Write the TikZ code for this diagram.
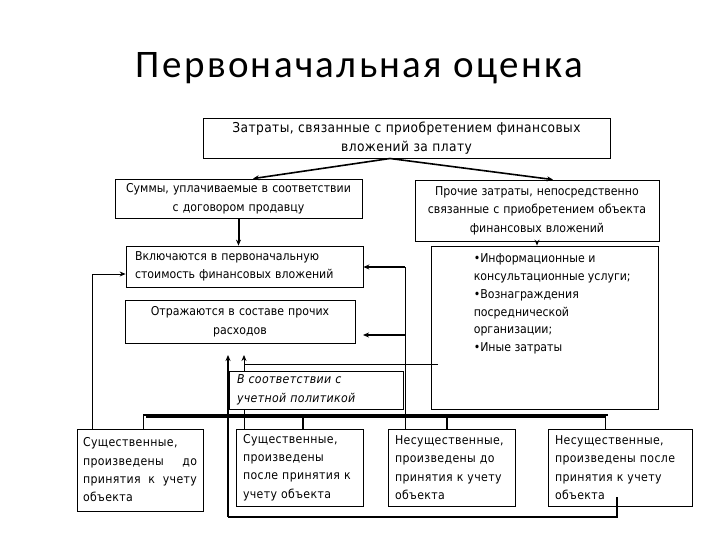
\documentclass[tikz,border=0pt]{standalone}
\usepackage{fontspec}
\setmainfont{DejaVu Sans Condensed}
\newfontfamily\titlefont[LetterSpace=6]{Carlito}
\newfontfamily\widefont[LetterSpace=3]{DejaVu Sans Condensed}
\usetikzlibrary{arrows.meta,calc,backgrounds}
\begin{document}
\begin{tikzpicture}[x=1pt,y=-1pt,
  box/.style={draw, line width=0.8pt, inner sep=0pt, font=\fontsize{12.2}{18.5}\selectfont},
  lowbox/.style={box, font=\widefont\fontsize{12.2}{18.3}\selectfont},
  thinln/.style={line width=0.8pt},
  thickln/.style={line width=2pt},
  barln/.style={line width=3.5pt},
  arr/.style={-{Stealth[length=6pt,width=5pt]}},
  dbl/.style={double, double distance=2pt, line width=0.7pt}
]
\useasboundingbox (0,0) rectangle (720,540);
\node[font=\titlefont\fontsize{39}{44}\selectfont, anchor=base, inner sep=0pt] (title) at (359.5,78) {Первоначальная оценка};

\node[box, font=\widefont\fontsize{13.6}{19}\selectfont, minimum width=407pt, minimum height=40pt, text width=395pt, align=center] (top) at (406.5,138.5)
  {Затраты, связанные с приобретением финансовых\\вложений за плату};
\node[box, minimum width=247pt, minimum height=39pt, text width=240pt, align=center] (L2) at (238.5,198.5)
  {Суммы, уплачиваемые в соответствии\\с договором продавцу};
\node[box, minimum width=244pt, minimum height=61pt, text width=238pt, align=center] (R2) at (537,210.5)
  {Прочие затраты, непосредственно\\связанные с приобретением объекта\\финансовых вложений};
\node[box, minimum width=237pt, minimum height=41pt, text width=219pt, align=left] (B3) at (244.5,266.5)
  {Включаются в первоначальную\\стоимость финансовых вложений};
\node[box, minimum width=230pt, minimum height=43pt, text width=220pt, align=center] (B4) at (240,321.5)
  {Отражаются в составе прочих\\расходов};
\node[box, fill=white, minimum width=174pt, minimum height=38pt, text width=158pt, align=left, font=\widefont\fontsize{12.2}{18.5}\selectfont\itshape] (pol) at (316,390)
  {В соответствии с\\учетной политикой};
\node[box, minimum width=227pt, minimum height=163pt,
  label={[anchor=north west, inner sep=0pt, xshift=43pt, yshift=-8pt, align=left, font=\fontsize{12.2}{17.8}\selectfont]north west:{•Информационные и\\консультационные услуги;\\•Вознаграждения\\посреднической\\организации;\\•Иные затраты}}] (B5) at (544.5,327.5) {};

\node[lowbox, minimum width=126pt, minimum height=82pt, text width=114pt, align=left] (A) at (140,470)
  {Существенные,\\произведены\hfill до\\принятия\hfill к\hfill учету\\объекта};
\node[lowbox, minimum width=127pt, minimum height=77pt, text width=113pt, align=left] (B) at (299.5,467.5)
  {Существенные,\\произведены\\после принятия к\\учету объекта};
\node[lowbox, minimum width=127pt, minimum height=77pt, text width=113pt, align=left] (C) at (451.5,467.5)
  {Несущественные,\\произведены до\\принятия к учету\\объекта};
\node[lowbox, minimum width=144pt, minimum height=77pt, text width=130pt, align=left] (D) at (620,467.5)
  {Несущественные,\\произведены после\\принятия к учету\\объекта};

\begin{scope}[on background layer]
% top splits
\coordinate (ts) at (390,158.5);
\draw[line width=1.6pt, arr] (ts) -- ($(L2.north)+(14.5,0)$);
\draw[line width=1.6pt, arr] (ts) -- ($(R2.north)+(16,0)$);
\draw[thickln, arr] (L2.south) -- (L2.south |- B3.north);
\draw[thickln, arr] (R2.south) -- (R2.south |- B5.north);

% right vertical line x=405
\coordinate (rv1) at (405,267);
\coordinate (rv2) at (405,335);
\coordinate (b4tip) at (363,335);
\draw[thinln] (rv1) -- (rv1 |- C.north);
\draw[thickln, arr] (rv1) -- (B3.east |- rv1);
\draw[thickln, arr] (rv2) -- (b4tip);

% thin line from B5 to x=244
\coordinate (h1) at (438,364);
\coordinate (h2) at (244,364);
\coordinate (up2) at (244,355);
\draw[thinln] (h1) -- (h2);
\draw[thinln, arr] (B.north -| h2) -- (up2);

% thick loop x=228
\coordinate (up1) at (228,355);
\coordinate (lp1) at (228,517);
\coordinate (lp2) at (617,517);
\coordinate (lp3) at (617,497);
\draw[thickln, arr] (lp1) -- (up1);
\draw[line width=1.3pt] (lp1) -- (lp2) -- (lp3);

% bar
\coordinate (barL) at (143,416);
\coordinate (barR) at (608,416);
\draw[barln] (barL) -- (barR);
\draw[dbl] (144.5,416) -- (144.5,429);
\draw[dbl] (606.5,416) -- (606.5,429);
\draw[line width=2.5pt] (303,416) -- (303,429);
\draw[line width=2.5pt] (447,416) -- (447,429);

% left line
\coordinate (lv) at (92,274);
\draw[thinln, arr] (A.north -| lv) -- (lv) -- (B3.west |- lv);
\end{scope}
\end{tikzpicture}
\end{document}
